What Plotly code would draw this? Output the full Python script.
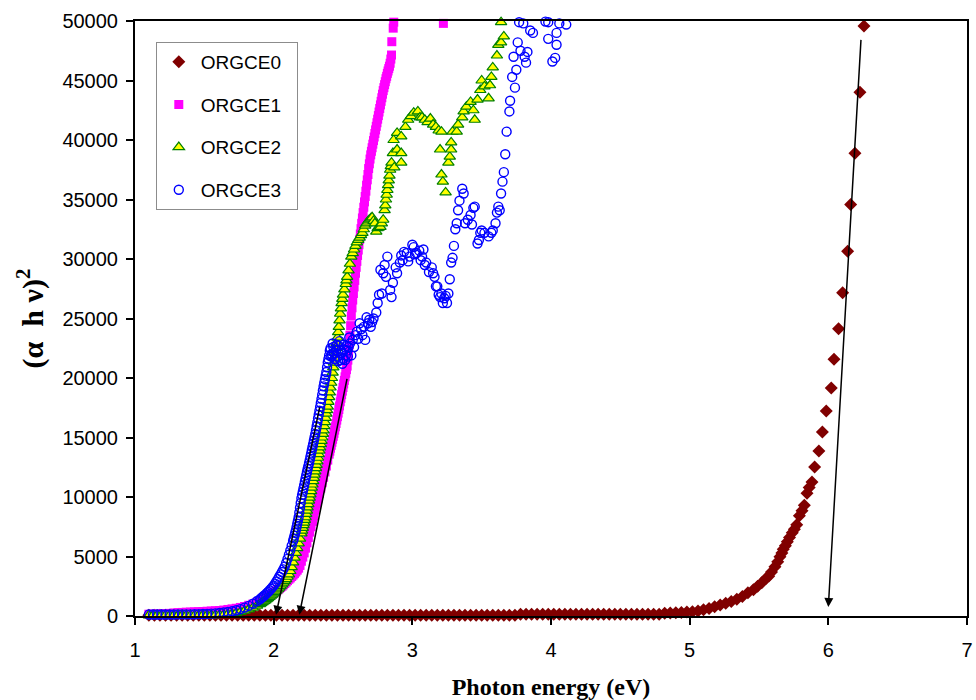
import plotly.graph_objects as go

# ---------------- data ----------------
# ORGCE0 (dark red diamonds)
orgce0_x = [1.10,1.14,1.18,1.22,1.26,1.30,1.34,1.38,1.42,1.46,1.50,1.54,1.58,1.62,1.66,1.70,1.74,1.78,1.82,1.86,
            1.90,1.94,1.98,2.02,2.06,2.10,2.14,2.18,2.22,2.26,2.30,2.34,2.38,2.42,2.46,2.50,2.54,2.58,2.62,2.66,
            2.70,2.74,2.78,2.82,2.86,2.90,2.94,2.98,3.02,3.06,3.10,3.14,3.18,3.22,3.26,3.30,3.34,3.38,3.42,3.46,
            3.50,3.54,3.58,3.62,3.66,3.70,3.74,3.78,3.82,3.86,3.90,3.94,3.98,4.02,4.06,4.10,4.14,4.18,4.22,4.26,
            4.30,4.34,4.38,4.42,4.46,4.50,4.54,4.58,4.62,4.66,4.70,4.74,4.78,4.82,4.86,4.90,4.94,4.98,
            5.02,5.06,5.10,5.14,5.18,5.22,5.26,5.30,5.34,5.38,5.42,5.46,5.49,5.52,5.55,5.57,5.59,5.615,5.635,5.651,
            5.665,5.675,5.69,5.704,5.72,5.74,5.755,5.772,5.791,5.81,5.827,5.846,5.862,5.882,5.901,5.932,5.957,5.985,6.021,6.041,
            6.074,6.103,6.139,6.161,6.192,6.228,6.257]
orgce0_y = [60,60,60,60,60,60,60,60,60,60,60,60,60,60,60,60,60,60,60,60,
            60,60,60,60,60,60,60,60,60,60,60,60,60,60,60,60,60,60,60,60,
            60,60,60,60,60,60,60,60,60,60,60,60,60,60,60,60,60,60,60,60,
            60,60,60,60,60,60,60,140,140,140,140,140,140,140,140,140,140,140,140,140,
            140,140,140,140,140,140,140,140,140,140,140,140,140,230,250,280,300,330,
            350,420,520,640,780,930,1080,1220,1400,1640,1950,2200,2500,2800,3150,3350,3700,4140,4550,4980,
            5300,5600,5900,6240,6600,7000,7300,7670,8430,8850,9300,10310,10800,11260,12520,13870,15460,17230,19160,21570,
            24140,27170,30650,34590,38880,44010,49580]

# ORGCE1 (magenta squares)
orgce1_x_low = [1.10,1.13,1.16,1.19,1.22,1.25,1.28,1.31,1.34,1.37,1.40,1.43,1.46,1.49,1.52,1.55,1.58,1.61,1.64,1.67,
                1.70,1.73,1.76,1.79,1.82,1.85,1.88,
                1.90,1.91,1.92,1.93,1.94,1.95,1.96,1.97,1.98,1.99,2.00,2.01,2.02,2.03,2.04,2.05,2.06,2.07,2.08,2.09,
                2.10,2.11,2.12,2.13,2.14,2.15,2.16,2.17,2.18,2.19,2.20,2.21,2.22,2.23,2.24,2.25,2.26,2.27,2.28,2.29,
                2.30,2.31,2.32,2.33,2.34,2.35,2.36,2.37,2.38,2.39,2.40]
orgce1_y_low = [150,160,170,180,200,220,250,280,300,320,330,350,360,380,400,420,440,460,500,550,
                600,650,720,800,900,1000,1150,
                1250,1300,1370,1440,1500,1570,1640,1700,1780,1860,1950,2030,2110,2200,2300,2400,2500,2620,2730,2850,
                2970,3090,3200,3320,3440,3560,3700,3850,4020,4250,4600,4950,5300,5700,6150,6600,7050,7500,7950,8400,
                8900,9400,9850,10300,10750,11200,11650,12100,12600,13100,13600]
orgce1_x_high = [2.405,2.41,2.415,2.42,2.425,2.43,2.435,2.44,2.445,2.45,2.455,2.46,2.465,2.47,2.475,2.48,2.485,2.49,2.495,2.50,
                 2.505,2.51,2.515,2.52,2.525,2.53,2.535,2.54,2.545,2.55,2.555,2.56,2.565,2.57,2.575,2.58,2.585,2.59,2.595,2.60,
                 2.605,2.61,2.615,2.62,2.625,2.63,2.635,2.64,2.645,2.65,2.655,2.66,2.665,2.67,2.675,2.68,2.685,2.69,2.695,2.70,
                 2.705,2.71,2.715,2.72,2.725,2.73,2.735,2.74,2.745,2.75,2.755,2.76,2.765,2.77,2.775,2.78,2.785,2.79,2.795,2.80,
                 2.805,2.81,2.815,2.82,2.825,2.83,2.835,2.84,2.845,2.85,2.852,2.862,2.866,3.224]
orgce1_y_high = [13850,14100,14350,14600,14850,15100,15350,15620,15900,16180,16460,16750,17050,17350,17650,18000,18300,18600,18900,19200,
                 19500,19800,20100,20400,20700,21000,21500,22100,22800,23600,24400,25200,25900,26550,27100,27650,28200,28800,29300,29800,
                 30300,30750,31200,31650,32100,32550,33000,33450,33900,34350,34800,35250,35700,36200,36650,37100,37600,38000,38400,38750,
                 39050,39350,39650,39950,40250,40550,40850,41150,41450,41750,42050,42350,42650,42950,43250,43550,43850,44150,44400,44650,
                 44900,45150,45350,45600,45800,46000,46200,46450,46800,47140,48260,49400,49900,49800]

# ORGCE2 (yellow triangles, green edge)
orgce2_x_low = [1.10,1.13,1.16,1.19,1.22,1.25,1.28,1.31,1.34,1.37,1.40,1.43,1.46,1.49,1.52,1.55,1.58,1.61,1.64,1.67,
                1.70,1.73,1.76,1.79,1.82,1.85,1.88,
                1.90,1.91,1.92,1.93,1.94,1.95,1.96,1.97,1.98,1.99,2.00,2.01,2.02,2.03,2.04,2.05,2.06,2.07,2.08,2.09,
                2.10,2.11,2.12,2.13,2.14,2.15,2.16,2.17,2.18,2.19,2.20]
orgce2_y_low = [60,60,60,60,60,60,60,60,60,60,60,60,60,65,70,75,80,90,110,150,
                200,260,340,440,560,700,870,
                1000,1080,1160,1240,1320,1410,1500,1600,1700,1800,1900,2010,2130,2250,2380,2510,2650,2800,2950,3100,
                3300,3500,3780,4100,4500,4900,5300,5700,6100,6500,6950]
orgce2_x_rise = [2.205,2.21,2.215,2.22,2.225,2.23,2.235,2.24,2.245,2.25,2.255,2.26,2.265,2.27,2.275,2.28,2.285,2.29,2.295,2.30,
                 2.305,2.31,2.315,2.32,2.325,2.33,2.335,2.34,2.345,2.35,2.355,2.36,2.365,2.37,2.375,2.38,2.385,2.39,2.395,2.40,
                 2.405,2.41,2.415,2.42,2.425,2.43,2.435,2.44,2.445,2.45,2.455,2.46,2.465,2.47,2.475,2.48,2.485,2.49,2.495,2.50]
orgce2_y_rise = [7180,7400,7630,7850,8080,8300,8580,8850,9120,9400,9700,9950,10220,10500,10780,11050,11330,11600,11880,12150,
                 12430,12700,13000,13300,13600,13900,14170,14450,14720,15000,15300,15600,15950,16300,16650,17000,17300,17600,18000,18400,
                 18800,19200,19600,20000,20450,20900,21300,21700,22100,22500,22950,23400,23850,24300,24850,25400,25850,26300,26650,27000]
orgce2_x_high = [2.51,2.52,2.525,2.53,2.54,2.55,2.56,2.57,2.58,2.59,2.60,2.61,2.62,2.63,2.64,2.65,2.66,2.67,2.68,2.69,
                 2.70,2.71,2.72,2.73,2.74,2.75,2.76,2.77,2.78,2.79,2.80,2.805,2.81,2.815,2.82,2.825,2.83,2.835,2.84,2.845,
                 2.85,2.86,2.865,2.87,2.89,2.89,2.92,2.92,2.92,2.95,2.97,2.99,3.01,3.04,3.055,3.07,3.09,3.11,3.13,3.15,
                 3.17,3.19,3.21,3.20,3.21,3.22,3.24,3.26,3.27,3.28,3.28,3.29,3.32,3.33,3.36,3.37,3.39,3.42,3.44,3.45,
                 3.47,3.49,3.50,3.52,3.55,3.56,3.57,3.58,3.61,3.62,3.64,3.66,3.64]
orgce2_y_high = [27450,27900,28200,28500,29050,29600,30200,30500,30800,31100,31400,31600,31800,32000,32200,32500,32800,33000,33150,33300,
                 33400,33500,33200,33000,32300,32600,32650,32700,33000,33300,34100,34500,35000,35400,35800,36200,36600,37000,37500,37800,
                 38100,38900,40000,37700,39200,40600,38100,38900,40300,41100,41700,42000,42300,42400,41900,41900,41700,41500,41800,41300,
                 41100,40800,40700,39200,37100,36500,35600,38100,38600,39200,39800,40700,40700,41300,41900,42400,42800,43200,42500,41700,
                 43400,44200,45000,44500,43500,44600,45300,46100,47100,48000,48200,48700,49900]

# ORGCE3 (blue open circles)
orgce3_x_low = [1.10,1.13,1.16,1.19,1.22,1.25,1.28,1.31,1.34,1.37,1.40,1.43,1.46,1.49,1.52,1.55,1.58,1.61,1.64,1.67,
                1.70,1.73,1.76,1.79,1.82,1.85,1.88,
                1.90,1.91,1.92,1.93,1.94,1.95,1.96,1.97,1.98,1.99,2.00,2.01,2.02,2.03,2.04,2.05,2.06,2.07,2.08,2.09,
                2.10,2.11,2.12,2.13,2.14]
orgce3_y_low = [120,120,120,125,125,130,130,135,135,140,140,150,160,170,180,200,220,250,290,340,
                400,480,580,700,850,1030,1250,
                1400,1500,1600,1700,1800,1920,2030,2150,2280,2410,2550,2720,2900,3100,3300,3500,3700,3920,4150,4450,
                4800,5150,5500,5900,6300]
orgce3_x_rise = [2.145,2.15,2.155,2.16,2.165,2.17,2.175,2.18,2.185,2.19,2.195,2.20,2.205,2.21,2.215,2.22,2.225,2.23,2.235,2.24,
                 2.245,2.25,2.255,2.26,2.265,2.27,2.275,2.28,2.285,2.29,2.295,2.30,2.305,2.31,2.315,2.32,2.325,2.33,2.335,2.34,
                 2.345,2.35,2.355,2.36,2.365,2.37,2.375,2.38,2.385,2.39,2.395,2.40]
orgce3_y_rise = [6520,6750,6980,7200,7470,7750,8020,8300,8700,9100,9500,9900,10180,10450,10730,11000,11280,11550,11830,12100,
                 12350,12600,12850,13100,13380,13650,13930,14200,14470,14750,15020,15300,15620,15950,16270,16600,16920,17250,17570,17900,
                 18250,18600,18950,19300,19600,19900,20200,20500,20900,21300,21600,21900]
orgce3_x_high = [2.405,2.41,2.415,2.42,2.425,2.43,2.435,2.44,2.45,2.455,2.46,2.465,2.47,2.475,2.48,2.485,2.49,2.495,2.50,2.505,
                 2.51,2.515,2.52,2.525,2.53,2.535,2.54,2.545,2.55,2.56,2.57,2.58,2.59,2.60,2.61,2.62,2.63,2.64,2.65,2.66,
                 2.67,2.68,2.69,2.70,2.71,2.72,2.74,2.75,2.76,2.77,2.78,2.79,2.80,2.81,2.82,2.84,2.85,2.86,2.88,2.89,
                 2.91,2.92,2.93,2.94,2.96,2.97,2.98,3.00,3.01,3.02,3.03,3.05,3.06,3.07,3.08,3.09,3.10,3.12,3.14,3.15,
                 3.16,3.17,3.18,3.19,3.20,3.21,3.22,3.23,3.24,3.25,3.26,3.27,3.28,3.29,3.30,3.31,3.32,3.33,3.34,3.36,
                 3.37,3.38,3.40,3.42,3.43,3.44,3.45,3.47,3.48,3.49,3.50,3.52,3.55,3.57,3.58,3.60,3.61,3.62,3.63,3.64,
                 3.65,3.66,3.67,3.68,3.70,3.705,3.72,3.73,3.74,3.75,3.76,3.77,3.78,3.80,3.81,3.82,3.83,3.85,3.87,3.96,
                 3.98,3.98,4.01,4.03,4.04,4.04,4.06,4.11]
orgce3_y_high = [22300,22500,21800,22000,22900,22600,22100,21600,22300,22800,21800,21400,22700,23100,21500,22300,22100,21200,21600,22800,
                 22400,21500,21900,22700,22300,21800,22600,23400,22900,21900,23200,22600,23600,23900,23300,24600,24100,23600,24300,23200,
                 25100,24600,24900,24300,24700,25000,25500,26300,27000,29100,27100,28800,29500,28500,30200,27400,26800,28000,29300,28800,
                 29700,30300,29900,30600,30500,29800,30200,31200,31000,30400,30500,30700,29900,30200,30800,29500,29700,28900,29300,28800,
                 28500,27700,27700,27000,26800,27100,26300,26700,26900,26300,27100,28300,29700,30100,31100,32500,33000,34100,34900,35900,
                 35500,33000,33300,33700,32900,34300,34400,31300,31600,32200,32400,32200,31900,32200,32400,33000,33900,34400,34100,35500,
                 36500,37300,38800,40700,42400,43300,45300,47000,44400,45900,48200,49900,47500,49800,47000,46500,47400,49200,49000,49950,
                 49900,48500,46600,46900,48000,49000,49800,49700]

series_names = ["ORGCE0", "ORGCE1", "ORGCE2", "ORGCE3"]

# arrows: (tail x, tail y) -> (head x, head y)
arrow_tail_x = [2.334, 2.531, 6.236]
arrow_tail_y = [17650, 20060, 48540]
arrow_head_x = [2.017, 2.185, 6.0]
arrow_head_y = [100, 100, 760]

x_ticks = [1, 2, 3, 4, 5, 6, 7]
y_ticks = [0, 5000, 10000, 15000, 20000, 25000, 30000, 35000, 40000, 45000, 50000]

# ---------------- assemble ----------------
orgce1_x = orgce1_x_low + orgce1_x_high
orgce1_y = orgce1_y_low + orgce1_y_high
orgce2_x = orgce2_x_low + orgce2_x_rise + orgce2_x_high
orgce2_y = orgce2_y_low + orgce2_y_rise + orgce2_y_high
orgce3_x = orgce3_x_low + orgce3_x_rise + orgce3_x_high
orgce3_y = orgce3_y_low + orgce3_y_rise + orgce3_y_high
for a, b in [(orgce0_x, orgce0_y), (orgce1_x, orgce1_y), (orgce2_x, orgce2_y), (orgce3_x, orgce3_y)]:
    assert len(a) == len(b), (len(a), len(b))

pad = "&nbsp;&nbsp;"  # a little room after the legend text, as in the reference box

fig = go.Figure()

fig.add_trace(go.Scatter(x=orgce0_x, y=orgce0_y, mode="markers", name=series_names[0] + pad,
                         legendgroup="g0", cliponaxis=False,
                         marker=dict(symbol="diamond", size=10, color="#800000",
                                     line=dict(width=0))))
fig.add_trace(go.Scatter(x=orgce1_x, y=orgce1_y, mode="markers", name=series_names[1] + pad,
                         legendgroup="g1", cliponaxis=False,
                         marker=dict(symbol="square", size=9, color="#FF00FF",
                                     line=dict(width=0))))
fig.add_trace(go.Scatter(x=orgce2_x, y=orgce2_y, mode="markers", name=series_names[2] + pad,
                         legendgroup="g2", cliponaxis=False,
                         marker=dict(symbol="triangle-up", size=10, color="#FFFF00",
                                     line=dict(width=1.2, color="#008000"))))
fig.add_trace(go.Scatter(x=orgce3_x, y=orgce3_y, mode="markers", name=series_names[3] + pad,
                         legendgroup="g3", cliponaxis=False,
                         marker=dict(symbol="circle-open", size=9, color="#0000FF",
                                     line=dict(width=1.4, color="#0000FF"))))

for tx, ty, hx, hy in zip(arrow_tail_x, arrow_tail_y, arrow_head_x, arrow_head_y):
    fig.add_annotation(x=hx, y=hy, ax=tx, ay=ty, xref="x", yref="y", axref="x", ayref="y",
                       text="", showarrow=True, arrowhead=2, arrowsize=1.2, arrowwidth=1.5,
                       arrowcolor="black", standoff=0)

axis_font = dict(family="Liberation Sans, Arial, sans-serif", size=20, color="black")

fig.update_layout(
    width=976, height=700, autosize=False,
    margin=dict(l=135, r=9, t=21, b=84, autoexpand=False),
    paper_bgcolor="white", plot_bgcolor="white",
    showlegend=True,
    legend=dict(x=0.025, y=0.965, xanchor="left", yanchor="top",
                bgcolor="white", bordercolor="#8c8c8c", borderwidth=1,
                font=dict(family="Liberation Sans, Arial, sans-serif", size=19, color="black"),
                traceorder="grouped", tracegroupgap=15, itemwidth=34),
    xaxis=dict(range=[1, 7], tickvals=x_ticks, ticktext=[str(v) for v in x_ticks],
               automargin=False,
               showgrid=False, zeroline=False, showline=True, linecolor="black", linewidth=2,
               mirror=True, ticks="outside", ticklen=7, tickwidth=1.5, tickcolor="black",
               tickfont=axis_font, ticklabelstandoff=8,
               title=dict(text="<b>Photon energy (eV)</b>",
                          font=dict(family="Liberation Serif, Times New Roman, serif", size=24, color="black"),
                          standoff=20)),
    yaxis=dict(range=[0, 50000], tickvals=y_ticks, ticktext=[str(v) for v in y_ticks],
               automargin=False,
               showgrid=False, zeroline=False, showline=True, linecolor="black", linewidth=2,
               mirror=True, ticks="outside", ticklen=7, tickwidth=1.5, tickcolor="black",
               tickfont=axis_font, ticklabelstandoff=4,
               title=dict(text="<b>(α&nbsp;&nbsp;h&nbsp;ν)<sup>2</sup></b>",
                          font=dict(family="Liberation Serif, Times New Roman, serif", size=30, color="black"),
                          standoff=10)),
)

fig.write_html("out.html", config={"displayModeBar": False},
               post_script="document.body.style.margin='0';document.body.style.overflow='hidden';")
